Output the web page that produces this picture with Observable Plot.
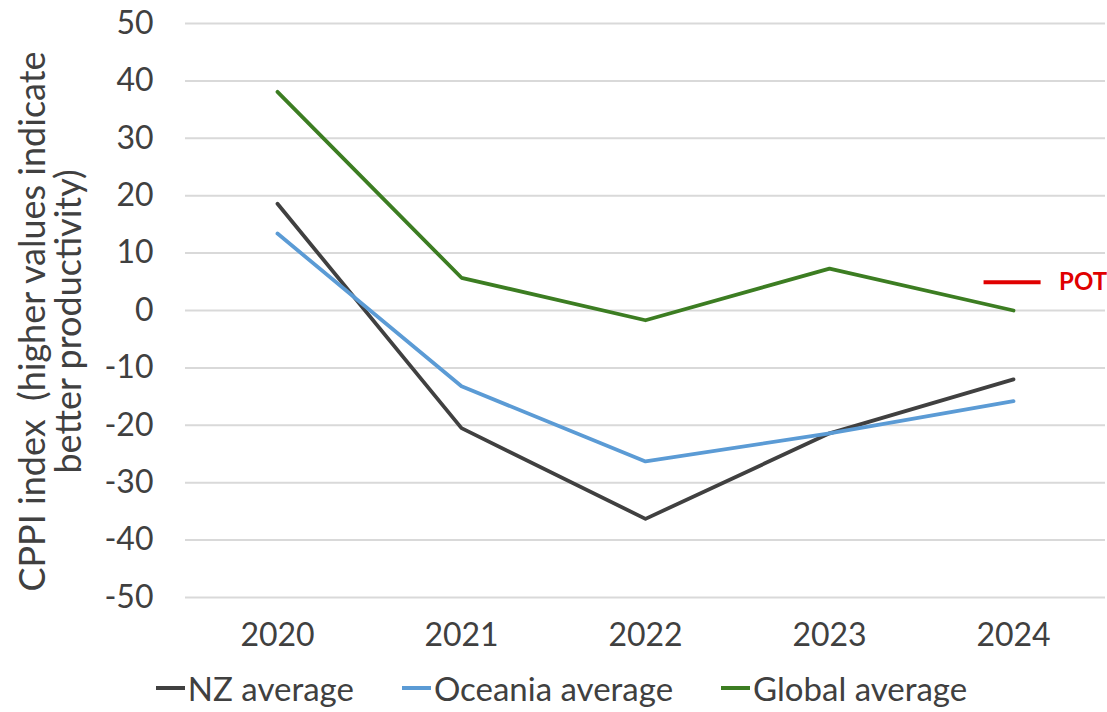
<!DOCTYPE html>
<html>
<head>
<meta charset="utf-8">
<script src="https://cdn.jsdelivr.net/npm/d3@7"></script>
<script src="https://cdn.jsdelivr.net/npm/@observablehq/plot@0.6"></script>
<style>
  body { margin: 0; background: #fff; font-family: Lato, sans-serif; }
  #legend { display: flex; justify-content: center; gap: 48px; font-size: 33px; color: #404040; padding-top: 8px; padding-left: 16px; }
  #legend .item { display: flex; align-items: center; }
  #legend .sw { display: inline-block; width: 29px; height: 4px; margin-right: 3px; }
</style>
</head>
<body>
<div id="chart"></div>
<div id="legend"></div>
<script>
const years = [2020, 2021, 2022, 2023, 2024]
const nzAverage = [18.6, -20.5, -36.3, -21.4, -12.0]
const oceaniaAverage = [13.4, -13.2, -26.3, -21.4, -15.8]
const globalAverage = [38.1, 5.7, -1.7, 7.3, 0.0]
const seriesNames = ['NZ average', 'Oceania average', 'Global average']
const seriesColors = ['#404040', '#5b9bd5', '#3c7d22']
const yTicks = [-50, -40, -30, -20, -10, 0, 10, 20, 30, 40, 50]
const potValue = 4.9
const potFrom = 2023.84
const potTo = 2024.15
const yLabel = 'CPPI index  (higher values indicate\nbetter productivity)'

const seriesValues = [nzAverage, oceaniaAverage, globalAverage]
const table = seriesNames.flatMap((name, i) =>
  years.map((year, j) => ({series: name, year, value: seriesValues[i][j]}))
)

let chart = Plot.plot({
  width: 1107,
  height: 660,
  marginTop: 23,
  marginBottom: 63,
  marginLeft: 185,
  marginRight: 2,
  style: {fontFamily: 'Lato, sans-serif', fontSize: '32px', color: '#404040'},
  x: {domain: [2019.5, 2024.5]},
  y: {domain: [-50, 50]},
  color: {domain: seriesNames, range: seriesColors},
  marks: [
    Plot.gridY(yTicks, {stroke: '#d9d9d9', strokeOpacity: 1, strokeWidth: 2}),
    Plot.axisY({ticks: yTicks, tickSize: 0, tickPadding: 32, tickFormat: d => String(d), label: null}),
    Plot.axisX({ticks: years, tickSize: 0, tickPadding: 26, tickFormat: d => String(d), label: null}),
    Plot.line(table, {x: 'year', y: 'value', stroke: 'series', strokeWidth: 3.8}),
    Plot.ruleY([{y: potValue, x1: potFrom, x2: potTo}], {y: 'y', x1: 'x1', x2: 'x2', stroke: '#e00000', strokeWidth: 4}),
    Plot.text([{y: potValue, x: potTo}], {x: 'x', y: 'y', text: () => 'POT', dx: 18, textAnchor: 'start', fill: '#e00000', fontWeight: 'bold', fontSize: 24}),
    Plot.text([yLabel], {text: d => d, frameAnchor: 'left', textAnchor: 'middle', rotate: -90, dx: -134, dy: 11, fontSize: 36, lineHeight: 1.0, fill: '#404040'})
  ]
})
d3.select('#chart').append(() => chart)

const legend = d3.select('#legend')
seriesNames.forEach((name, i) => {
  const item = legend.append('div').attr('class', 'item')
  item.append('span').attr('class', 'sw').style('background', seriesColors[i])
  item.append('span').text(name)
})
</script>
</body>
</html>
